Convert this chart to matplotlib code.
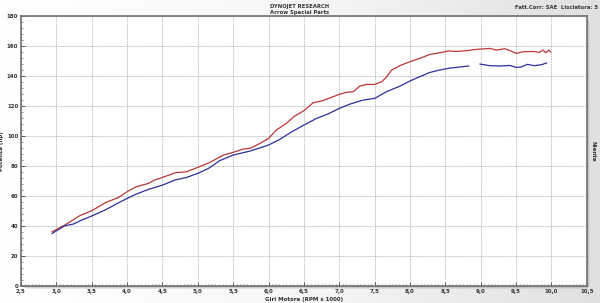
import matplotlib
matplotlib.use('Agg')
import matplotlib.pyplot as plt
import numpy as np
from matplotlib.patches import FancyBboxPatch
from matplotlib.ticker import MultipleLocator, FuncFormatter

plt.rcParams['font.family'] = ['DejaVu Sans']

# curva rossa (potenza, hp) vs giri (RPM x 1000)
rpm_red = [2.94, 3.12, 3.33, 3.5, 3.69, 3.88, 4.0, 4.13, 4.3, 4.39, 4.5, 4.68, 4.84,
           5.0, 5.17, 5.36, 5.5, 5.64, 5.74, 5.88, 6.0, 6.11, 6.25, 6.37, 6.5, 6.63,
           6.77, 6.89, 7.0, 7.1, 7.2, 7.29, 7.38, 7.5, 7.6, 7.67, 7.74, 7.86, 8.0,
           8.14, 8.28, 8.42, 8.54, 8.66, 8.8, 8.94, 9.0, 9.13, 9.22, 9.34, 9.43, 9.5,
           9.6, 9.74, 9.83, 9.88, 9.92, 9.96, 9.99]
hp_red = [36.2, 40.7, 46.9, 50.2, 55.5, 59.1, 62.9, 66.2, 68.4, 70.7, 72.4, 75.5, 76.2,
          79.1, 82.4, 87.3, 89.1, 91.3, 91.8, 95.1, 98.4, 104.0, 108.4, 113.3, 116.9, 122.2,
          123.6, 125.8, 127.8, 129.1, 129.6, 133.3, 134.4, 134.4, 136.2, 139.5, 144.0, 147.0, 149.6,
          151.8, 154.4, 155.5, 156.7, 156.4, 156.9, 157.8, 158.0, 158.4, 157.3, 158.2, 156.7, 155.1,
          156.2, 156.4, 155.8, 157.3, 155.5, 157.3, 156.0]

# curva blu (con interruzione intorno a 8,9)
rpm_blue = [2.94, 3.12, 3.24, 3.36, 3.5, 3.69, 3.88, 4.0, 4.13, 4.3, 4.5, 4.68, 4.84,
            5.0, 5.15, 5.31, 5.5, 5.74, 6.0, 6.16, 6.33, 6.5, 6.68, 6.84, 7.0, 7.15,
            7.34, 7.5, 7.67, 7.86, 8.0, 8.14, 8.28, 8.42, 8.56, 8.7, 8.83, 8.91,
            8.99, 9.13, 9.27, 9.41, 9.5, 9.57, 9.66, 9.76, 9.86, 9.93]
hp_blue = [35.1, 40.2, 41.3, 44.0, 46.7, 50.7, 55.5, 58.4, 61.3, 64.4, 67.3, 70.7, 72.4,
           75.1, 78.4, 83.6, 87.3, 90.0, 94.0, 97.8, 102.9, 107.3, 111.8, 114.7, 118.4, 121.3,
           124.0, 125.1, 129.6, 133.3, 136.7, 139.6, 142.4, 144.0, 145.3, 146.0, 146.7, np.nan,
           148.0, 146.9, 146.7, 147.1, 145.8, 146.0, 147.8, 146.9, 147.6, 148.7]

fig = plt.figure(figsize=(6, 3.03), dpi=100)

# sfondo sfumato
bg = fig.add_axes([0, 0, 1, 1], zorder=-10)
grad = np.linspace(0, 1, 256).reshape(1, -1)
bg.imshow(grad, aspect='auto', cmap=matplotlib.colors.LinearSegmentedColormap.from_list(
    'g', ['#ffffff', '#f7f7f7', '#e0e0e0']), extent=[0, 1, 0, 1])
bg.axis('off')

pos = [0.035, 0.056, 0.943, 0.891]
# ombra del riquadro
shadow = FancyBboxPatch((pos[0] + 0.004, pos[1] - 0.008), pos[2], pos[3],
                        boxstyle='round,pad=0,rounding_size=0.01', transform=fig.transFigure,
                        facecolor='#a0a0a0', edgecolor='none', alpha=0.5, zorder=-5)
fig.patches.append(shadow)

ax = fig.add_axes(pos)
ax.set_facecolor('white')
ax.plot(rpm_red, hp_red, color='#b83638', lw=0.9)
ax.plot(rpm_blue, hp_blue, color='#2d2f9c', lw=0.9)

ax.set_xlim(2.5, 10.5)
ax.set_ylim(0, 180)
ax.xaxis.set_major_locator(MultipleLocator(0.5))
ax.xaxis.set_minor_locator(MultipleLocator(0.05))
ax.yaxis.set_major_locator(MultipleLocator(20))
ax.yaxis.set_minor_locator(MultipleLocator(4))
ax.xaxis.set_major_formatter(FuncFormatter(lambda v, p: f'{v:.1f}'.replace('.', ',')))
ax.yaxis.set_major_formatter(FuncFormatter(lambda v, p: f'{v:.0f}'))

ax.tick_params(which='both', direction='in', labelsize=4, pad=2, color='#444444')
ax.tick_params(which='major', length=3, width=0.6)
ax.tick_params(which='minor', length=1.5, width=0.4)
for lbl in ax.get_xticklabels() + ax.get_yticklabels():
    lbl.set_fontweight('bold')
    lbl.set_color('#333333')

ax.grid(True, which='major', color='#a4a4a4', linestyle=(0, (1, 1)), lw=0.6)
for s in ax.spines.values():
    s.set_color('#707070')
    s.set_linewidth(1.2)

ax.set_xlabel('Giri Motore (RPM x 1000)', fontsize=4, fontweight='bold', labelpad=2, color='#333333')
ax.set_ylabel('Potenza (hp)', fontsize=4, fontweight='bold', labelpad=2, color='#333333')

fig.text(0.5, 0.988, 'DYNOJET RESEARCH', ha='center', va='top', fontsize=3.8, fontweight='bold', color='#333333')
fig.text(0.5, 0.968, 'Arrow Special Parts', ha='center', va='top', fontsize=3.8, fontweight='bold', color='#333333')
fig.text(0.996, 0.982, 'Fatt.Corr: SAE  Lisciatura: 5', ha='right', va='top', fontsize=3.8,
         fontweight='bold', color='#333333')
fig.text(0.988, 0.5, 'Niente', ha='center', va='center', rotation=270, fontsize=4,
         fontweight='bold', color='#333333')

fig.savefig('out.png', dpi=100)
